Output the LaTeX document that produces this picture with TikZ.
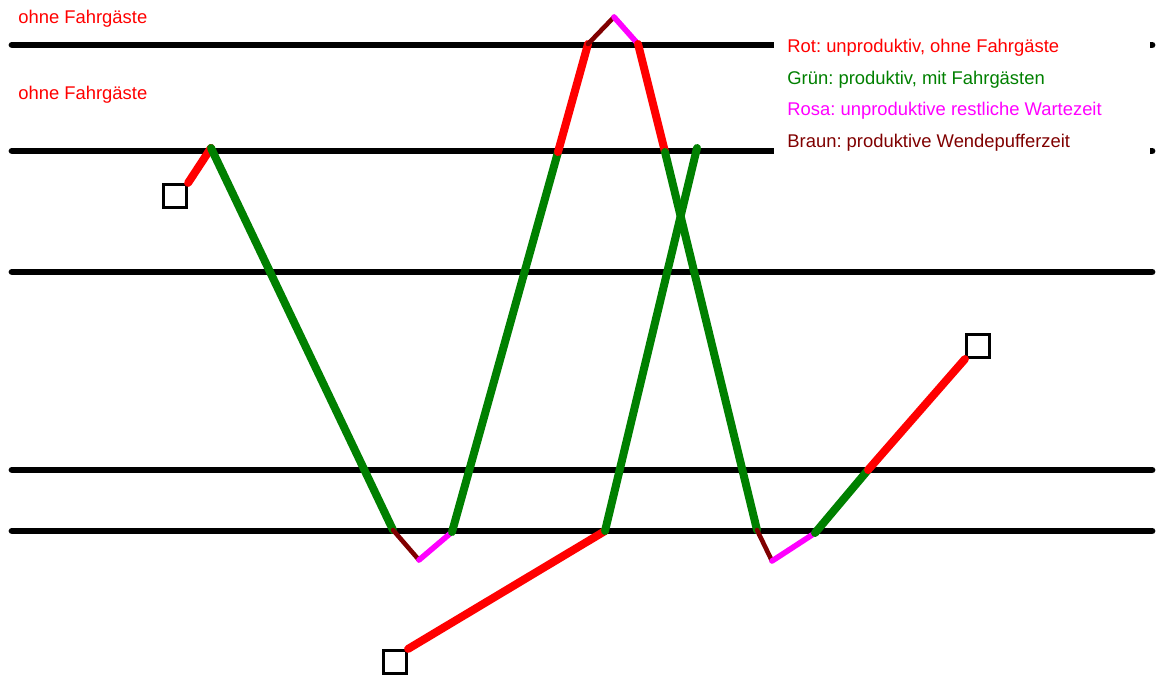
\documentclass[tikz,border=0pt]{standalone}
\usepackage{fontspec}
\setmainfont{Liberation Sans}
\definecolor{rotline}{HTML}{FF0000}
\definecolor{gruenline}{HTML}{008000}
\definecolor{rosaline}{HTML}{FF00FF}
\definecolor{braunline}{HTML}{800000}
\tikzset{
  gleis/.style={line width=3.4pt,line cap=round,draw=black},
  stop/.style={draw=black,line width=1.6pt,minimum size=11.5pt,inner sep=0pt,fill=white},
  leer/.style={line width=4pt,line cap=round,draw=rotline},
  voll/.style={line width=4pt,line cap=round,draw=gruenline},
  warte/.style={line width=2.8pt,line cap=round,draw=rosaline},
  puffer/.style={line width=2.3pt,line cap=round,draw=braunline},
  note/.style={anchor=base west,inner sep=0pt,font=\fontsize{9.2}{11}\selectfont}
}

\begin{document}
\frenchspacing
\begin{tikzpicture}[x=0.5pt,y=-0.5pt]
\useasboundingbox (0,0) rectangle (1156,678);
% Gleise
\foreach \y/\n in {45/a,151/b,272/c,470/d,531/e}{
  \coordinate (l\n) at (12,\y);
  \coordinate (r\n) at (1152,\y);
  \draw[gleis] (l\n)--(r\n);
}
% Legende
\node[fill=white,minimum width=188pt,minimum height=67pt,inner sep=0pt,anchor=north west] (legend) at (774,30) {};
\node[note,text=rotline] (lrot) at (787,53) {Rot: unproduktiv, ohne Fahrgäste};
\node[note,text=gruenline] (lgruen) at (787,85) {Grün: produktiv, mit Fahrgästen};
\node[note,text=rosaline] (lrosa) at (787,116) {Rosa: unproduktive restliche Wartezeit};
\node[note,text=braunline] (lbraun) at (787,148) {Braun: produktive Wendepufferzeit};
\node[note,text=rotline] (oben1) at (18,24) {ohne Fahrgäste};
\node[note,text=rotline] (oben2) at (18,100) {ohne Fahrgäste};
% Umlauf 1
\node[stop] (s1) at (175,196) {};
\coordinate (p1) at (211,148);
\coordinate (p2) at (393,530);
\coordinate (p3) at (419,560);
\coordinate (p4) at (452,532);
\coordinate (p5) at (558,152);
\coordinate (p6) at (588,44);
\coordinate (p7) at (614,17);
\coordinate (p8) at (638,44);
\coordinate (p9) at (665,152);
\coordinate (p10) at (757,530);
\coordinate (p11) at (772,561);
\coordinate (p12) at (815,533);
\coordinate (p13) at (868,470);
\node[stop] (s2) at (978,346) {};
\draw[leer] (s1.north east)--(p1);
\draw[voll] (p1)--(p2);
\draw[puffer] (p2)--(p3);
\draw[warte] (p3)--(p4);
\draw[voll] (p4)--(p5);
\draw[leer] (p5)--(p6);
\draw[puffer] (p6)--(p7);
\draw[warte] (p7)--(p8);
\draw[leer] (p8)--(p9);
\draw[voll] (p9)--(p10);
\draw[puffer] (p10)--(p11);
\draw[warte] (p11)--(p12);
\draw[voll] (p12)--(p13);
\draw[leer] (p13)--(s2.south west);
% Umlauf 2
\node[stop] (s3) at (395,662) {};
\coordinate (q1) at (605,531);
\coordinate (q2) at (697,148);
\draw[leer] (s3.north east)--(q1);
\draw[voll] (q1)--(q2);
\end{tikzpicture}
\end{document}
